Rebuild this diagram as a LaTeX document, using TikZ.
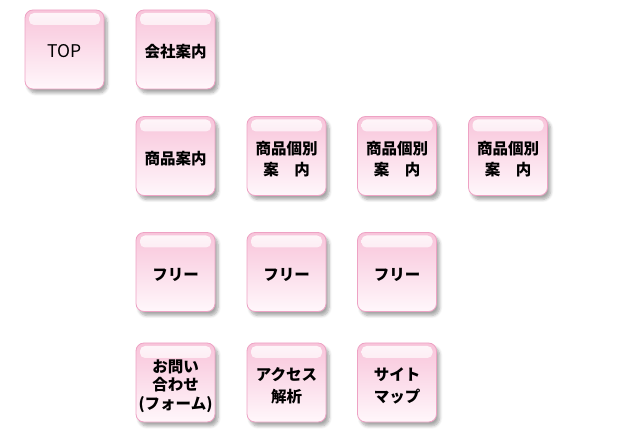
\documentclass[tikz,border=0pt]{standalone}
\usepackage{fontspec}
\setmainfont{Noto Sans CJK JP}
\usetikzlibrary{shadows.blur}
\definecolor{btop}{HTML}{F8C4DA}
\definecolor{bbot}{HTML}{FFF7FB}
\definecolor{bline}{HTML}{EEA2C4}
\newcommand\btxt[1]{\raisebox{-4.5pt}[\height][\depth]{\begin{tabular}{@{}c@{}}#1\end{tabular}}}
\tikzset{
  btn/.style={draw=bline, line width=0.8pt, rounded corners=8pt,
    minimum width=79pt, minimum height=79pt, inner sep=0pt,
    top color=btop, bottom color=bbot, align=center,
    font=\fontsize{15.5}{19}\selectfont\bfseries,
    blur shadow={shadow xshift=3pt, shadow yshift=-4pt, shadow blur steps=6, shadow opacity=35, shadow blur radius=3pt},
    path picture={
      \shade[top color=white!85!btop, bottom color=btop!92!bbot, rounded corners=5pt]
        ([xshift=4pt,yshift=-3pt]path picture bounding box.north west)
        rectangle ([xshift=-4pt,yshift=-15pt]path picture bounding box.north east);
    }},
  two/.style={font=\fontsize{15.5}{21.5}\selectfont\bfseries},
  three/.style={font=\fontsize{15.5}{18.5}\selectfont\bfseries}
}
\begin{document}
\begin{tikzpicture}[x=1pt,y=1pt]
\useasboundingbox (0,0) rectangle (619,445);
\node[btn, font=\fontsize{17.5}{19}\selectfont] (top) at (64.5,395.5) {\btxt{TOP}};
\node[btn] (kaisha) at (175.5,395.5) {\btxt{会社案内}};
\node[btn] (shohin) at (175.5,289) {\btxt{商品案内}};
\node[btn,two] (kobetsu1) at (286.5,289) {\btxt{商品個別\\案\hspace{1em}内}};
\node[btn,two] (kobetsu2) at (397,289) {\btxt{商品個別\\案\hspace{1em}内}};
\node[btn,two] (kobetsu3) at (508,289) {\btxt{商品個別\\案\hspace{1em}内}};
\node[btn] (free1) at (175.5,173) {\btxt{フリー}};
\node[btn] (free2) at (286.5,173) {\btxt{フリー}};
\node[btn] (free3) at (397,173) {\btxt{フリー}};
\node[btn,three] (toiawase) at (175.5,62.5) {\btxt{お問い\\合わせ\\(フォーム)}};
\node[btn,two] (access) at (286.5,62.5) {\btxt{アクセス\\解析}};
\node[btn,two] (sitemap) at (397,62.5) {\btxt{サイト\\マップ}};
\end{tikzpicture}
\end{document}
